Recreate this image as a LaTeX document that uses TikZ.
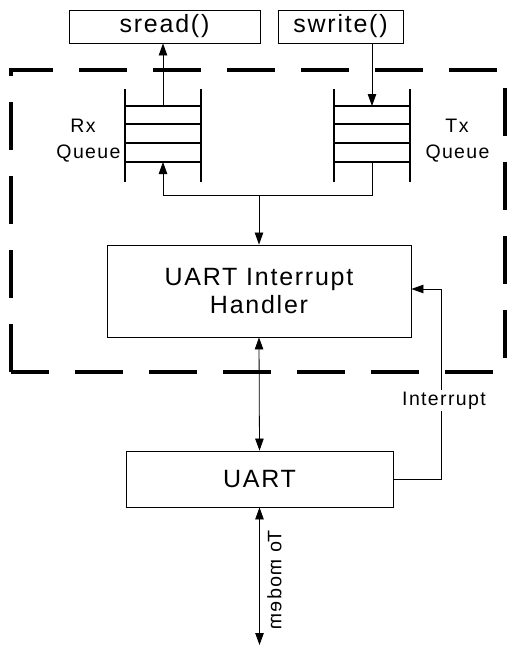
\documentclass[tikz,border=0pt]{standalone}
\usepackage{fontspec}
\setmainfont{Liberation Sans}
\newfontfamily\lblfont[LetterSpace=7]{Liberation Sans}
\usetikzlibrary{arrows.meta}
\tikzset{
  box/.style={draw, line width=0.9pt, inner sep=0pt, anchor=center, font=\lblfont\fontsize{25}{28}\selectfont, align=center},
  lab/.style={inner sep=0pt, font=\lblfont\fontsize{19.5}{24}\selectfont},
  tip/.style={Triangle[length=12pt,width=8.5pt]},
  conn/.style={line width=0.8pt, -{Triangle[length=12pt,width=8.5pt]}},
  dconn/.style={line width=0.8pt, {Triangle[length=12pt,width=8.5pt]}-{Triangle[length=12pt,width=8.5pt]}},
  qline/.style={line width=1.6pt},
  border/.style={line width=4pt, dash pattern=on 48pt off 26pt}
}
\begin{document}
\begin{tikzpicture}[x=1pt,y=-1pt]
\useasboundingbox (0,0) rectangle (508,653);
\fill[white] (0,0) rectangle (508,653);

% dashed boundary
\draw[border] (11,372) -- (11,70) -- (505,70) -- (505,372) -- cycle;

% boxes
\node[box, minimum width=191pt, minimum height=33pt] (sread) at (164.5,26.5) {sread()};
\node[box, minimum width=125pt, minimum height=33pt] (swrite) at (340.5,26.5) {swrite()};
\node[box, minimum width=304pt, minimum height=92pt] (handler) at (259,291) {UART Interrupt\\Handler};
\node[box, minimum width=267pt, minimum height=56pt] (uart) at (259.5,479) {UART};

% queues
\foreach \x/\n in {125/rx,334/tx}{
  \draw[qline] (\x,89) -- (\x,182);
  \draw[qline] (\x+76,89) -- (\x+76,182);
  \foreach \y in {106,124,143,162}{
    \draw[qline] (\x,\y) -- (\x+76,\y);
  }
}
\coordinate (rxt) at (163,106);
\coordinate (rxb) at (163,162);
\coordinate (txt) at (372,106);
\coordinate (txb) at (372,162);
\coordinate (loopR) at (372,195);
\coordinate (loopL) at (163,195);

% queue labels
\node[lab, anchor=base] (rxl1) at (83,132) {Rx};
\node[lab, anchor=base] (rxl2) at (88.5,158) {Queue};
\node[lab, anchor=base] (txl1) at (457,132) {Tx};
\node[lab, anchor=base] (txl2) at (457.5,158) {Queue};

% connectors
\draw[conn] (rxt) -- (rxt |- sread.south);
\draw[conn] (txt |- swrite.south) -- (txt);
\draw[conn] (txb) -- (loopR) -- (loopL) -- (rxb);
\draw[conn] (handler.north |- loopL) -- (handler.north);
\draw[dconn] (handler.south) -- (uart.north);

\coordinate (intb) at (441,479);
\coordinate (intt) at (441,289);
\draw[conn] (uart.east) -- (intb) -- (intt) -- (intt -| handler.east);
\node[lab, anchor=base, fill=white, inner sep=2pt] (intl) at (444,405) {Interrupt};

\coordinate (modem) at (259.5,645);
\draw[dconn] (uart.south) -- (modem);
\node[lab, xscale=-1, rotate=-90] (moden) at (274.5,580) {To modem};
\end{tikzpicture}
\end{document}
